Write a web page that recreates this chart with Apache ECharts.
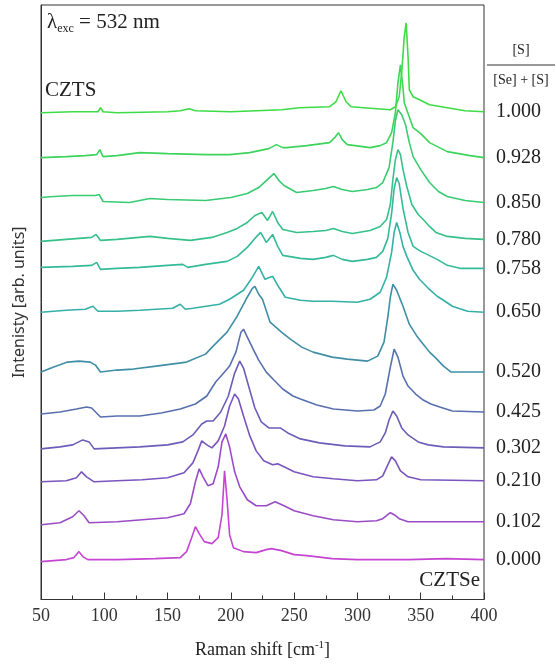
<!DOCTYPE html>
<html>
<head>
<meta charset="utf-8">
<script src="https://cdn.jsdelivr.net/npm/echarts@6/dist/echarts.min.js"></script>
<style>
  html, body { margin: 0; padding: 0; background: #fff; }
  #chart { width: 556px; height: 664px; }
</style>
</head>
<body>
<div id="chart"></div>
<script>
// [S]/([Se]+[S]) ratio of each spectrum, top to bottom
const ratios = ['1.000', '0.928', '0.850', '0.780', '0.758', '0.650', '0.520', '0.425', '0.302', '0.210', '0.102', '0.000']
// vertical stacking offset of each spectrum (arb. units)
const offsets = [489, 443, 398, 361, 332, 288, 228, 188, 152, 119, 78, 40]

// spectra: [Raman shift, intensity above baseline]
const s1000 = [[50, -1], [75, 0], [95, 0], [97, 4], [99, 0], [110, -1], [150, 0], [160, 1], [167, 3], [172, 1], [200, 0], [220, 1], [240, 2], [254, 4], [278, 5], [283, 10], [287, 21], [291, 10], [295, 5], [305, 4], [326, 2], [330, 5], [333, 15], [335, 40], [337, 75], [338.5, 89], [340, 55], [341, 22], [344, 15], [349, 12], [357, 7], [371, 4], [385, 1], [400, 0]]
const s0928 = [[50, 0], [70, 1], [85, 2], [94, 3], [96.5, 8], [99, 1], [110, 2], [128, 5], [150, 4], [181, 3], [199, 3], [215, 5], [230, 9], [236, 13], [241, 10], [244, 10], [260, 12], [278, 15], [282, 20], [285, 25], [288, 18], [292, 13], [310, 10], [318, 12], [323, 15], [327, 25], [330, 45], [332, 75], [334, 93], [336, 70], [337, 55], [344, 30], [350, 24], [357, 15], [371, 6], [389, 2], [400, 0]]
const s0850 = [[50, 5], [60, 6], [75, 7], [93, 7], [96, 8], [99, 1], [120, 0], [136, 4], [150, 3], [180, 2], [200, 5], [213, 9], [222, 15], [228, 22], [234, 29], [238, 22], [242, 17], [252, 10], [265, 12], [275, 14], [281, 16], [288, 13], [296, 11], [308, 13], [315, 15], [320, 20], [325, 35], [328, 60], [330, 82], [332, 93], [335, 88], [338, 78], [341, 60], [344, 46], [350, 33], [357, 20], [364, 11], [371, 6], [385, 2], [400, 0]]
const s0780 = [[50, -2], [70, 0], [90, 2], [93.5, 5], [97, -1], [110, 0], [136, 3], [150, 1], [168, -1], [185, 2], [197, 7], [205, 11], [213, 17], [219, 24], [224.5, 27], [229, 19], [233, 28], [237, 17], [241, 10], [252, 7], [265, 8], [275, 9], [281, 11], [288, 8], [296, 6], [310, 9], [318, 13], [323, 20], [326, 35], [328, 60], [330, 80], [332, 90], [334, 85], [336, 70], [339, 53], [343, 35], [348, 25], [352, 20], [357, 13], [362, 7], [371, 3], [385, 1], [400, 0]]
const s0758 = [[50, 1], [75, 2], [90, 3], [94, 6], [97, -1], [110, 0], [128, 1], [150, 3], [162, 4], [166, 1], [180, 4], [197, 7], [205, 12], [213, 21], [219, 30], [223.5, 36], [228, 26], [233, 34], [237, 22], [241, 13], [255, 10], [265, 9], [275, 11], [281, 13], [288, 9], [296, 7], [308, 9], [315, 11], [320, 17], [324, 30], [327, 55], [329, 80], [331, 91], [333, 85], [336, 60], [340, 36], [344, 22], [350, 17], [355, 14], [363, 9], [371, 3], [381, 0], [400, 0]]
const s0650 = [[50, 0], [70, 2], [85, 3], [91, 6], [95, 1], [110, 1], [128, 2], [154, 4], [160, 8], [164, 3], [170, 4], [191, 8], [199, 13], [210, 22], [216, 33], [222, 46], [227, 33], [233, 36], [238, 25], [243, 15], [255, 12], [265, 11], [280, 11], [300, 10], [310, 13], [318, 20], [323, 35], [327, 60], [329, 80], [331, 90], [333.5, 80], [336, 66], [339, 56], [344, 42], [349, 33], [356, 24], [363, 16], [368, 12], [375, 6], [387, 1], [400, 0]]
const s0520 = [[50, 0], [60, 5], [71, 10], [80, 11], [89, 10], [93, 7], [97, 0], [110, 2], [123, 3], [141, 6], [165, 10], [180, 18], [186, 26], [197, 40], [205, 56], [212, 73], [217, 84], [219, 86], [222, 78], [225, 73], [231, 50], [240, 40], [247, 33], [256, 25], [265, 20], [280, 15], [292, 13], [308, 11], [316, 16], [321, 30], [324, 55], [326, 75], [328, 88], [331, 82], [336, 66], [341, 48], [347, 36], [352, 28], [357, 20], [362, 14], [368, 6], [374, 0], [400, 0]]
const s0425 = [[50, -2], [65, 0], [78, 3], [86, 5], [90, 4], [97, -5], [110, -4], [128, -4], [145, -1], [160, 3], [172, 8], [181, 16], [188, 30], [195, 40], [199, 46], [204, 60], [208, 80], [210, 83], [213, 75], [218, 62], [222, 52], [228, 40], [234, 32], [241, 23], [249, 16], [255, 13], [268, 7], [281, 3], [300, 1], [313, 2], [318, 6], [322, 18], [326, 45], [329, 63], [332, 55], [336, 36], [340, 26], [346, 18], [352, 12], [358, 8], [365, 5], [375, 1], [400, 0]]
const s0302 = [[50, -1], [65, 1], [75, 3], [83, 8], [88, 6], [92, -1], [110, 0], [128, 1], [150, 3], [162, 6], [170, 13], [177, 24], [181, 27], [186, 27], [192, 36], [198, 52], [203, 75], [207, 87], [210, 80], [214, 62], [219, 40], [224, 26], [230, 20], [239, 20], [245, 15], [255, 9], [270, 5], [290, 2], [310, 1], [318, 6], [322, 15], [325, 28], [328, 37], [331, 32], [335, 20], [340, 13], [348, 6], [356, 3], [368, 1], [400, 0]]
const s0210 = [[50, -1], [70, 0], [78, 3], [82, 9], [86, 4], [92, -1], [110, 0], [130, 1], [150, 3], [163, 8], [170, 18], [174, 30], [177, 40], [181, 36], [185, 33], [190, 40], [195, 55], [199, 75], [203, 87], [206, 82], [210, 65], [215, 45], [220, 30], [226, 20], [233, 16], [237, 17], [242, 14], [250, 9], [265, 4], [281, 2], [300, 0], [315, 1], [320, 5], [324, 16], [327, 24], [330, 20], [334, 10], [340, 4], [350, 1], [400, 0]]
const s0102 = [[50, -3], [65, -1], [75, 5], [80, 11], [84, 6], [88, -1], [110, 0], [130, 2], [150, 4], [163, 8], [168, 18], [172, 40], [175, 53], [178, 45], [182, 36], [186, 38], [190, 55], [193, 80], [196, 88], [199, 75], [203, 50], [207, 35], [213, 22], [220, 16], [228, 16], [235, 20], [242, 16], [250, 11], [265, 6], [281, 2], [300, 0], [315, 1], [320, 3], [324, 7], [326, 9], [329, 7], [333, 3], [340, 0], [400, 0]]
const s0000 = [[50, -2], [70, 0], [76, 2], [80, 8], [83, 3], [87, 0], [110, 0], [140, 1], [160, 2], [165, 8], [169, 22], [172, 33], [175, 26], [179, 18], [185, 16], [190, 22], [193, 45], [195, 89], [197, 60], [199, 25], [202, 12], [210, 8], [220, 7], [228, 10], [232, 11], [240, 9], [250, 5], [260, 4], [280, 1], [300, 0], [340, 0], [370, 1], [400, 0]]
const spectra = [s1000, s0928, s0850, s0780, s0758, s0650, s0520, s0425, s0302, s0210, s0102, s0000]

const xTicks = { min: 50, max: 400, step: 50 }

// green -> teal -> blue -> purple -> magenta
const colors = ['#3ddc45', '#3cd45a', '#38cb72', '#35c188', '#34ba98', '#35b0a6', '#3f8ea6', '#5870ad', '#6a5eb8', '#7a55be', '#9a4cc6', '#c544d2']

const serif = 'Liberation Serif'

const chart = echarts.init(document.getElementById('chart'))

const series = spectra.map((pts, i) => ({
  type: 'line',
  name: ratios[i],
  data: pts.map(p => [p[0], p[1] + offsets[i]]),
  showSymbol: false,
  symbol: 'none',
  lineStyle: { color: colors[i], width: 1.6 },
  endLabel: {
    show: true,
    formatter: '{a}',
    distance: 12,
    color: '#222',
    fontFamily: serif,
    fontSize: 20
  },
  z: 20 - i
}))

chart.setOption({
  animation: false,
  grid: {
    left: 41,
    right: 72,
    top: 5,
    bottom: 63,
    show: true,
    borderColor: '#333',
    borderWidth: 1
  },
  xAxis: {
    type: 'value',
    min: xTicks.min,
    max: xTicks.max,
    interval: xTicks.step,
    name: '{t|Raman shift [cm}{s|-1}{t|]}',
    nameLocation: 'middle',
    nameGap: 40,
    nameTextStyle: {
      rich: {
        t: { fontFamily: serif, fontSize: 18, color: '#222' },
        s: { fontFamily: serif, fontSize: 11, color: '#222', verticalAlign: 'top', padding: [0, 0, 10, 0] }
      }
    },
    axisLine: { lineStyle: { color: '#333', width: 1 } },
    axisTick: { inside: true, length: 7, lineStyle: { color: '#333' } },
    minorTick: { show: true, splitNumber: 2, length: 4, lineStyle: { color: '#333' } },
    splitLine: { show: false },
    axisLabel: { fontFamily: serif, fontSize: 18, color: '#333', margin: 8 }
  },
  yAxis: {
    type: 'value',
    min: 0,
    max: 596,
    name: 'Intenisty [arb. units]',
    nameLocation: 'middle',
    nameGap: 14,
    nameTextStyle: { fontFamily: 'Noto Sans', fontSize: 16, color: '#333' },
    axisLine: { show: true, lineStyle: { color: '#333' } },
    axisTick: { show: false },
    axisLabel: { show: false },
    splitLine: { show: false }
  },
  graphic: [
    {
      type: 'text',
      left: 47,
      top: 12,
      style: {
        text: '{a|λ}{b|exc}{a| = 532 nm}',
        rich: {
          a: { fontFamily: serif, fontSize: 21, fill: '#222' },
          b: { fontFamily: serif, fontSize: 12, fill: '#222', verticalAlign: 'bottom', padding: [12, 0, 0, 0] }
        }
      }
    },
    {
      type: 'text',
      left: 45,
      top: 80,
      style: { text: 'CZTS', fontFamily: serif, fontSize: 21, fill: '#222' }
    },
    {
      type: 'text',
      right: 76,
      top: 570,
      style: { text: 'CZTSe', fontFamily: serif, fontSize: 21, fill: '#222' }
    },
    {
      type: 'text',
      x: 521,
      y: 50,
      style: { text: '[S]', fontFamily: serif, fontSize: 14, fill: '#222', align: 'center', verticalAlign: 'middle' }
    },
    {
      type: 'line',
      shape: { x1: 487, y1: 65, x2: 555, y2: 65 },
      style: { stroke: '#333', lineWidth: 1 }
    },
    {
      type: 'text',
      x: 521,
      y: 80,
      style: { text: '[Se] + [S]', fontFamily: serif, fontSize: 14, fill: '#222', align: 'center', verticalAlign: 'middle' }
    }
  ],
  series: series
})
</script>
</body>
</html>
